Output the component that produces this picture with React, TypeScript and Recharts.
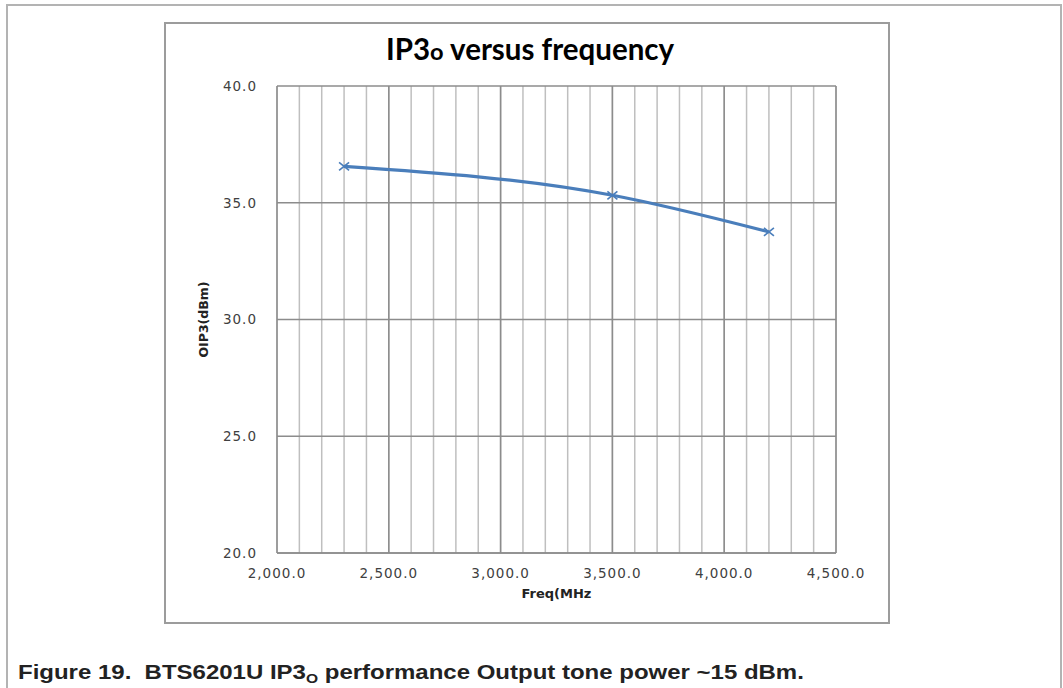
import React from "react";
import {
  LineChart,
  Line,
  XAxis,
  YAxis,
  CartesianGrid,
  ReferenceLine,
  Label,
} from "recharts";

// measured points (MHz, dBm)
const FREQ = [2300, 3500, 4200];
const OIP3 = [36.56, 35.32, 33.75];

const X_TICKS = [
  2000, 2100, 2200, 2300, 2400, 2500, 2600, 2700, 2800, 2900, 3000, 3100,
  3200, 3300, 3400, 3500, 3600, 3700, 3800, 3900, 4000, 4100, 4200, 4300,
  4400, 4500,
];
const X_MAJOR = [2500, 3000, 3500, 4000, 4500];
const Y_TICKS = [20, 25, 30, 35, 40];

const LINE_BLUE = "#4a7ebb";

const data = FREQ.map((f, i) => ({ freq: f, oip3: OIP3[i] }));

const fmtX = (v: number) => {
  if (v % 500 !== 0) return "";
  const s = String(v);
  return s.slice(0, s.length - 3) + "," + s.slice(-3) + ".0";
};

const XMark = (props: any) => {
  const { cx, cy } = props;
  if (cx == null || cy == null) return null;
  return (
    <g stroke={LINE_BLUE} strokeWidth={1.6}>
      <line x1={cx - 5} y1={cy - 4} x2={cx + 5} y2={cy + 4} />
      <line x1={cx - 5} y1={cy + 4} x2={cx + 5} y2={cy - 4} />
    </g>
  );
};

const tickStyle = {
  fill: "#404040",
  fontSize: 13.5,
  fontFamily: "DejaVu Sans",
  letterSpacing: 1,
};

export default function App() {
  return (
    <div
      style={{
        position: "absolute",
        left: 0,
        top: 0,
        width: 1063,
        height: 688,
        overflow: "hidden",
        background: "#fff",
      }}
    >
      <div
        style={{
          position: "absolute",
          left: 6,
          top: 4,
          width: 1056,
          height: 720,
          border: "2px solid #b3b3b3",
          boxSizing: "border-box",
        }}
      />
      <div
        style={{
          position: "absolute",
          left: 164,
          top: 22,
          width: 726,
          height: 602,
          border: "2px solid #9c9c9c",
          boxSizing: "border-box",
        }}
      />
      <div
        style={{
          position: "absolute",
          left: 330,
          top: 34,
          width: 400,
          textAlign: "center",
          fontFamily: "Lato",
          fontWeight: 700,
          fontSize: 29.5,
          lineHeight: "29px",
          color: "#000",
        }}
      >
        IP3<span style={{ fontSize: "0.8em" }}>o</span> versus frequency
      </div>
      <div style={{ position: "absolute", left: 165, top: 23 }}>
        <LineChart
          width={723}
          height={600}
          data={data}
          margin={{ top: 63, right: 52, bottom: 40, left: 22 }}
        >
          <CartesianGrid
            stroke="#bfbfbf"
            strokeWidth={1.5}
            horizontal={false}
          />
          <CartesianGrid stroke="#8c8c8c" strokeWidth={1.5} vertical={false} />
          {X_MAJOR.map((v) => (
            <ReferenceLine
              key={v}
              x={v}
              stroke="#8c8c8c"
              strokeWidth={1.5}
              ifOverflow="extendDomain"
            />
          ))}
          <XAxis
            dataKey="freq"
            type="number"
            domain={[2000, 4500]}
            ticks={X_TICKS}
            interval={0}
            tickFormatter={fmtX}
            tick={tickStyle}
            tickLine={false}
            tickMargin={9}
            axisLine={{ stroke: "#8c8c8c", strokeWidth: 1.5 }}
            height={30}
          >
            <Label
              value="Freq(MHz"
              position="bottom"
              offset={6}
              style={{
                fontFamily: "DejaVu Sans",
                fontWeight: 700,
                fontSize: 13,
                fill: "#222",
              }}
            />
          </XAxis>
          <YAxis
            type="number"
            domain={[20, 40]}
            ticks={Y_TICKS}
            tickFormatter={(v: number) => v.toFixed(1)}
            tick={tickStyle}
            tickLine={false}
            tickMargin={14}
            axisLine={{ stroke: "#8c8c8c", strokeWidth: 1.5 }}
            width={90}
          >
            <Label
              value="OIP3(dBm)"
              angle={-90}
              position="insideLeft"
              offset={17}
              style={{
                textAnchor: "middle",
                fontFamily: "DejaVu Sans",
                fontWeight: 700,
                fontSize: 12.5,
                fill: "#222",
              }}
            />
          </YAxis>
          <Line
            type="monotone"
            dataKey="oip3"
            stroke={LINE_BLUE}
            strokeWidth={3.2}
            dot={<XMark />}
            activeDot={false}
            isAnimationActive={false}
          />
        </LineChart>
      </div>
      <div
        style={{
          position: "absolute",
          left: 18,
          top: 662,
          fontFamily: "Liberation Sans",
          fontWeight: 700,
          fontSize: 19.5,
          lineHeight: "20px",
          color: "#222",
          whiteSpace: "pre",
          transform: "scaleX(1.23)",
          transformOrigin: "0 0",
        }}
      >
        Figure 19.  BTS6201U IP3
        <span style={{ fontSize: "0.65em", verticalAlign: "-0.3em" }}>O</span>
        {" "}performance Output tone power ~15 dBm.
      </div>
    </div>
  );
}
